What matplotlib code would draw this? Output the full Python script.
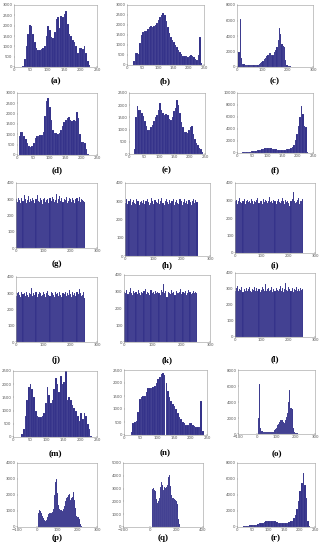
import matplotlib
matplotlib.use('Agg')
import matplotlib.pyplot as plt
import numpy as np

#######################################
# Histogram data (counts per grey level bin)
#######################################
levels5 = list(range(0, 256, 5))   # bins of width 5
levels4 = list(range(0, 256, 4))   # bins of width 4

hist_a = [0, 0, 0, 0, 0, 50, 400, 1000, 1600, 2050, 2000, 1600, 1200, 900, 800, 820, 850, 900,
          1000, 1500, 2000, 1800, 1450, 1400, 1700, 2300, 2400, 1900, 2450, 2400, 2550, 2700,
          2100, 1600, 1500, 1300, 1200, 1000, 700, 900, 900, 850, 1000, 700, 300, 100, 20, 0,
          0, 0, 0, 0]
hist_b = [0, 0, 0, 0, 200, 600, 600, 550, 1100, 1500, 1650, 1700, 1700, 1800, 1900, 1950, 1900,
          1950, 2000, 2100, 2250, 2400, 2500, 2600, 2500, 2200, 1900, 1600, 1400, 1250, 1150,
          1000, 900, 750, 650, 550, 450, 450, 450, 400, 450, 500, 450, 400, 300, 250, 500, 1400,
          100, 0, 0, 0]
hist_c = [0, 2000, 6200, 1200, 400, 350, 300, 300, 280, 250, 250, 230, 200, 200, 200, 200, 250,
          350, 500, 650, 800, 1000, 1200, 1400, 1600, 1750, 1800, 1550, 1500, 1900, 2200, 2600,
          3500, 5000, 4200, 3000, 2700, 2600, 900, 300, 150, 100, 80, 60, 40, 20, 10, 0, 0, 0,
          0, 0]
hist_d = [0, 900, 1100, 1100, 900, 750, 600, 450, 400, 450, 600, 800, 900, 900, 950, 950, 1100,
          1900, 2600, 2750, 2300, 1700, 1200, 1050, 1050, 1000, 1050, 1200, 1400, 1600, 1700,
          1800, 1850, 1700, 1650, 1700, 1650, 2100, 1800, 1000, 650, 650, 600, 300, 50, 0, 0, 0,
          0, 0, 0, 0]
hist_e = [0, 0, 0, 200, 1500, 1950, 1800, 1800, 1700, 1550, 1350, 1150, 1000, 1000, 1100, 1200,
          1350, 1500, 1600, 1800, 2100, 1800, 1700, 1600, 1650, 1600, 1450, 1400, 1500, 1750,
          1900, 2200, 2000, 1700, 1300, 1100, 900, 900, 850, 1000, 1100, 1150, 800, 600, 450,
          350, 250, 200, 100, 0, 0, 0]
hist_f = [0, 0, 50, 100, 150, 200, 200, 250, 250, 300, 300, 350, 400, 450, 500, 550, 600, 750,
          800, 850, 850, 850, 800, 750, 700, 600, 550, 500, 500, 500, 500, 550, 600, 650, 700,
          800, 1000, 1400, 2200, 3200, 4500, 6000, 7800, 6500, 4500, 4300, 200, 0, 0, 0, 0, 0]

hist_g = [300, 285, 310, 295, 280, 305, 290, 325, 300, 275, 295, 320, 285, 300, 290, 310, 295,
          280, 300, 325, 290, 285, 305, 295, 270, 300, 310, 285, 295, 300, 280, 305, 290, 315,
          300, 285, 295, 330, 280, 300, 320, 290, 305, 285, 300, 295, 315, 280, 290, 305, 300,
          285, 310, 295, 280, 300, 305, 290, 315, 285, 300, 295, 290, 285]
hist_h = [290, 310, 285, 300, 315, 280, 295, 305, 290, 285, 310, 300, 280, 295, 300, 290, 305,
          285, 300, 310, 295, 280, 290, 320, 300, 285, 305, 295, 290, 315, 285, 300, 320, 290,
          280, 300, 310, 295, 285, 305, 290, 300, 315, 280, 295, 305, 290, 285, 310, 300, 280,
          295, 315, 290, 300, 285, 305, 295, 280, 300, 310, 290, 305, 295]
hist_i = [295, 305, 280, 300, 315, 290, 285, 300, 310, 280, 295, 305, 290, 300, 285, 310, 295,
          280, 300, 290, 305, 315, 285, 295, 300, 280, 310, 290, 305, 300, 285, 295, 320, 290,
          300, 285, 305, 295, 280, 300, 310, 290, 285, 300, 315, 295, 280, 305, 290, 300, 285,
          270, 295, 310, 350, 300, 285, 290, 305, 315, 280, 300, 295, 310]
hist_j = [285, 300, 310, 290, 280, 305, 295, 300, 285, 310, 290, 280, 300, 295, 330, 285, 300,
          290, 305, 280, 295, 310, 300, 285, 290, 305, 295, 280, 300, 315, 290, 285, 305, 300,
          290, 280, 310, 295, 300, 285, 305, 290, 280, 300, 295, 310, 285, 300, 290, 320, 295,
          280, 305, 290, 300, 285, 310, 295, 325, 300, 285, 290, 305, 270]
hist_k = [300, 290, 310, 285, 300, 320, 295, 280, 305, 290, 300, 285, 310, 295, 280, 300, 290,
          305, 315, 285, 300, 295, 280, 310, 290, 300, 285, 305, 295, 300, 290, 280, 310, 300,
          345, 290, 305, 270, 300, 295, 285, 310, 290, 300, 280, 305, 295, 290, 300, 315, 285,
          300, 290, 305, 280, 295, 310, 300, 285, 290, 305, 295, 300, 290]
hist_l = [290, 305, 320, 285, 300, 295, 310, 280, 300, 290, 305, 285, 300, 315, 290, 280, 300,
          295, 310, 285, 305, 290, 300, 280, 295, 310, 300, 285, 330, 290, 300, 305, 285, 295,
          310, 280, 300, 290, 305, 295, 285, 300, 320, 290, 305, 280, 300, 335, 295, 285, 310,
          300, 290, 305, 280, 300, 295, 310, 285, 300, 290, 305, 295, 300]

hist_m = [0, 0, 0, 0, 0, 100, 300, 800, 1400, 1900, 2000, 1800, 1500, 1000, 800, 750, 750, 800,
          900, 1300, 1900, 1600, 1300, 1400, 1800, 2250, 2000, 1700, 2300, 2000, 2100, 2500, 1400,
          1500, 1400, 1200, 1100, 1000, 800, 600, 900, 700, 900, 800, 500, 300, 50, 0, 0, 0, 0, 0]
hist_n = [0, 0, 0, 0, 100, 450, 500, 550, 900, 1400, 1450, 1500, 1500, 1650, 1800, 1800, 1800,
          1850, 1900, 2000, 2150, 2250, 2350, 2400, 2300, 2000, 1700, 1450, 1300, 1200, 1100,
          1000, 850, 700, 600, 500, 450, 400, 400, 450, 450, 400, 350, 300, 300, 300, 1300, 150,
          0, 0, 0, 0]
hist_o = [0, 2000, 6200, 800, 400, 350, 300, 300, 280, 250, 250, 220, 200, 200, 200, 250, 300,
          450, 600, 750, 900, 1100, 1300, 1500, 1700, 1800, 1750, 1500, 1400, 1700, 2100, 2600,
          4000, 5500, 3300, 3200, 3100, 800, 200, 150, 100, 80, 60, 40, 30, 20, 10, 0, 0, 0, 0, 0]
hist_p = [0, 900, 1050, 1000, 850, 700, 550, 450, 400, 450, 600, 800, 900, 900, 900, 950, 1100,
          2000, 2800, 3000, 2100, 1400, 1100, 1050, 1050, 1000, 1100, 1300, 1600, 1800, 1850,
          2000, 2050, 1700, 1800, 1900, 2200, 1700, 1200, 700, 650, 600, 500, 200, 50, 0, 0, 0,
          0, 0, 0, 0]
hist_q = [0, 0, 0, 0, 3000, 3050, 2950, 2900, 2800, 2600, 2200, 1900, 1900, 2000, 2300, 2700,
          3100, 3500, 3700, 3300, 2900, 3000, 3100, 3050, 3000, 3100, 3300, 3600, 3900, 4100,
          4300, 3200, 2500, 2400, 2300, 2250, 2200, 2150, 2100, 2050, 2000, 1800, 1200, 600, 200,
          50, 0, 0, 0, 0, 0, 0]
hist_r = [0, 0, 0, 50, 100, 150, 150, 150, 200, 200, 250, 250, 300, 350, 450, 500, 550, 650, 700,
          750, 800, 800, 780, 750, 700, 600, 550, 500, 480, 480, 500, 520, 550, 600, 700, 800,
          1100, 1500, 2200, 3300, 4500, 5500, 6800, 5200, 3600, 800, 100, 0, 0, 0, 0, 0]

panel_labels = ['(a)', '(b)', '(c)', '(d)', '(e)', '(f)', '(g)', '(h)', '(i)',
                '(j)', '(k)', '(l)', '(m)', '(n)', '(o)', '(p)', '(q)', '(r)']

#######################################
# Panel setup: data, axis limits, tick step, pixel box (x0, y0, x1, y1), label y
#######################################
panels = [
    (levels5, hist_a, (0, 250, 50), (0, 3000, 500), (14, 5, 97, 67), 81),
    (levels5, hist_b, (0, 250, 50), (0, 3000, 500), (127, 5, 204, 65), 81),
    (levels5, hist_c, (0, 300, 100), (0, 8000, 2000), (237, 5, 313, 67), 81),
    (levels5, hist_d, (0, 250, 50), (0, 3000, 500), (17, 93, 97, 155), 170),
    (levels5, hist_e, (0, 250, 50), (0, 2500, 500), (129, 93, 205, 154), 170),
    (levels5, hist_f, (0, 250, 50), (0, 10000, 2000), (237, 93, 313, 153), 170),
    (levels4, hist_g, (0, 300, 100), (0, 400, 100), (16, 183, 97, 248), 264),
    (levels4, hist_h, (0, 300, 100), (0, 400, 100), (125, 183, 210, 256), 265),
    (levels4, hist_i, (0, 300, 100), (0, 400, 100), (235, 183, 315, 253), 265),
    (levels4, hist_j, (0, 300, 100), (0, 400, 100), (16, 277, 97, 342), 360),
    (levels4, hist_k, (0, 300, 100), (0, 400, 100), (124, 275, 210, 342), 360),
    (levels4, hist_l, (0, 300, 100), (0, 400, 100), (235, 273, 315, 337), 359),
    (levels5, hist_m, (0, 250, 50), (0, 2500, 500), (13, 371, 97, 437), 454),
    (levels5, hist_n, (0, 250, 50), (0, 2500, 500), (124, 370, 207, 435), 453),
    (levels5, hist_o, (-100, 300, 100), (0, 8000, 2000), (238, 370, 315, 434), 454),
    (levels5, hist_p, (-100, 300, 100), (0, 4000, 1000), (17, 463, 97, 527), 538),
    (levels5, hist_q, (-200, 400, 200), (0, 5000, 1000), (123, 463, 203, 527), 538),
    (levels5, hist_r, (0, 250, 50), (0, 8000, 2000), (237, 463, 315, 527), 538),
]

W, H = 324, 550
fig = plt.figure(figsize=(W / 100, H / 100), dpi=100)
barcol = '#2e2c86'

for i in range(0, len(panels)):
    lv, hv, xl, yl, box, ly = panels[i]
    x0, y0, x1, y1 = box
    ax = fig.add_axes([x0 / W, 1 - y1 / H, (x1 - x0) / W, (y1 - y0) / H])
    step = lv[1] - lv[0]
    ax.bar(lv, hv, width=step, align='edge', color=barcol,
           edgecolor=(1, 1, 1, 0.35), linewidth=0.15)
    ax.set_xlim(xl[0], xl[1])
    ax.set_ylim(yl[0], yl[1])
    ax.set_xticks(np.arange(xl[0], xl[1] + 1, xl[2]))
    ax.set_yticks(np.arange(yl[0], yl[1] + 1, yl[2]))
    ax.tick_params(direction='in', length=1, width=0.3, labelsize=2.8,
                   pad=1, colors='#555555')
    for s in ax.spines.values():
        s.set_linewidth(0.4)
        s.set_color('#999999')
    # Panel label below axes
    fig.text((x0 + x1) / 2 / W, 1 - ly / H, panel_labels[i], ha='center', va='center',
             fontsize=6.5, fontweight='bold', family='Liberation Serif')

fig.savefig('out.png', dpi=100)
